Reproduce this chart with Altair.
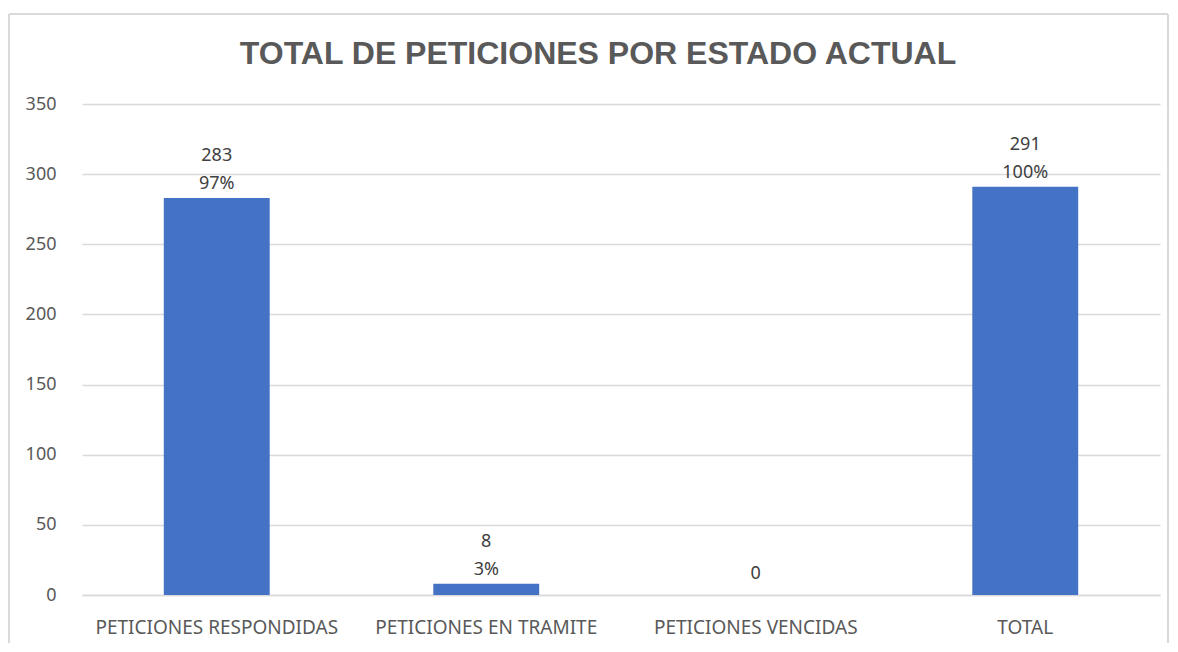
import altair as alt
import pandas as pd

categories = ["PETICIONES RESPONDIDAS", "PETICIONES EN TRAMITE", "PETICIONES VENCIDAS", "TOTAL"]
values = [283, 8, 0, 291]
percents = ["97%", "3%", "", "100%"]

df = pd.DataFrame({"cat": categories, "val": values, "pct": percents})

FONT = "Liberation Sans"
LFONT = "Noto Sans"
TXT = "#595959"
W, H = 1078, 491

x = alt.X("cat:N", sort=categories, title=None,
          scale=alt.Scale(paddingInner=0.607, paddingOuter=0.3035),
          axis=alt.Axis(labelAngle=0, labelFontSize=19, labelColor=TXT, labelFont=LFONT,
                        labelLimit=400, labelPadding=23, ticks=False,
                        domainColor="#d9d9d9", domainWidth=1.5))
y = alt.Y("val:Q", title=None,
          scale=alt.Scale(domain=[0, 350], nice=False),
          axis=alt.Axis(values=[0, 50, 100, 150, 200, 250, 300, 350], labelFontSize=18,
                        labelColor=TXT, labelFont=LFONT, labelPadding=26, ticks=False,
                        domain=False, gridColor="#d9d9d9", gridWidth=1.5))

base = alt.Chart(df)
bars = base.mark_bar(color="#4472C4").encode(x=x, y=y)
txt_num_nz = base.transform_filter("datum.pct != ''").mark_text(
    baseline="middle", dy=-42, fontSize=18, font=LFONT, color="#404040"
).encode(x=x, y=y, text="val:Q")
txt_num_zero = base.transform_filter("datum.pct == ''").mark_text(
    baseline="middle", dy=-21, fontSize=18, font=LFONT, color="#404040"
).encode(x=x, y=y, text="val:Q")
txt_pct = base.transform_filter("datum.pct != ''").mark_text(
    baseline="middle", dy=-14, fontSize=18, font=LFONT, color="#404040"
).encode(x=x, y=y, text="pct:N")

border = alt.Chart(pd.DataFrame({"a": [0]})).mark_rule(color="#d9d9d9", strokeWidth=2)
top_b = border.encode(x=alt.value(-73), x2=alt.value(1086), y=alt.value(-90))
left_b = border.encode(x=alt.value(-73), y=alt.value(-90), y2=alt.value(H + 50))
right_b = border.encode(x=alt.value(1086), y=alt.value(-90), y2=alt.value(H + 50))

title_mark = alt.Chart(pd.DataFrame({"t": ["TOTAL DE PETICIONES POR ESTADO ACTUAL"]})).mark_text(
    font=FONT, fontSize=32, fontWeight="bold", color=TXT, align="center", baseline="middle"
).encode(x=alt.value(516), y=alt.value(-50), text="t:N")

chart = alt.layer(top_b, left_b, right_b, bars, txt_num_nz, txt_num_zero, txt_pct, title_mark).properties(
    width=W, height=H,
    autosize=alt.AutoSizeParams(type="none"),
    padding={"left": 74, "top": 96, "right": 10, "bottom": 48},
).configure(background="white").configure_view(stroke=None)

chart.save("out.html", embed_options={"renderer": "svg", "actions": False})
